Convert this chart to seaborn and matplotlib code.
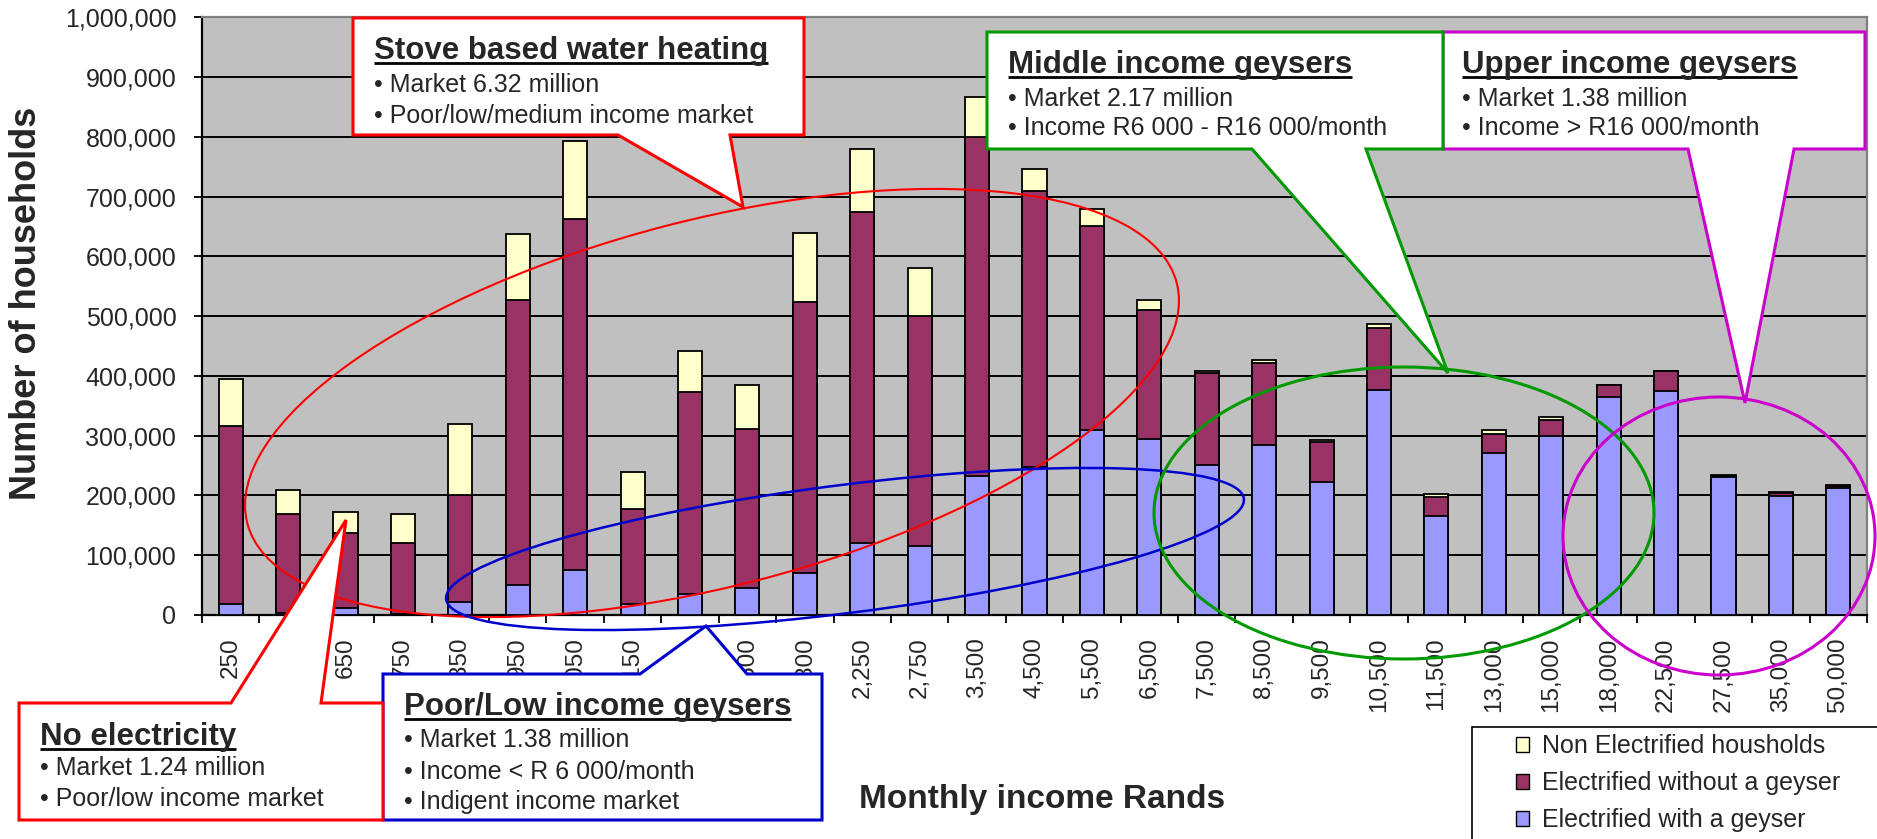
import matplotlib
matplotlib.use("Agg")
import matplotlib.pyplot as plt
from matplotlib.patches import Ellipse, Polygon, Patch, Rectangle
from matplotlib.ticker import FuncFormatter
import numpy as np
import pandas as pd
import seaborn as sns

# categories (monthly income, Rands)
income = ["250", "450", "650", "750", "850", "950", "1,050", "1,150", "1,250", "1,500",
          "1,800", "2,250", "2,750", "3,500", "4,500", "5,500", "6,500", "7,500", "8,500",
          "9,500", "10,500", "11,500", "13,000", "15,000", "18,000", "22,500", "27,500",
          "35,000", "50,000"]

# households, thousands (stack segments, bottom to top)
with_geyser = [18, 3, 11, 2, 21, 50, 75, 18, 35, 45, 70, 121, 116, 233, 247, 309, 295,
               251, 285, 222, 376, 166, 271, 300, 365, 374, 231, 199, 212]
without_geyser = [299, 166, 126, 119, 180, 477, 588, 159, 338, 267, 454, 554, 385, 566,
                  463, 342, 216, 154, 137, 67, 104, 32, 32, 27, 19, 34, 2, 5, 4]
non_electrified = [78, 40, 35, 48, 119, 110, 130, 62, 68, 72, 115, 104, 80, 67, 37, 29,
                   16, 4, 5, 4, 7, 4, 6, 4, 1, 1, 1, 1, 2]

W, H = 1877, 839
YELLOW, MAROON, BLUE = "#FFFFCC", "#993366", "#9999FF"

sns.set_style("white")
plt.rcParams["font.family"] = ["Liberation Sans", "DejaVu Sans"]

df = pd.DataFrame({"income": income,
                   "geyser": np.array(with_geyser) * 1000,
                   "nogeyser": np.array(without_geyser) * 1000,
                   "nonelec": np.array(non_electrified) * 1000})
df["elec"] = df["geyser"] + df["nogeyser"]
df["total"] = df["elec"] + df["nonelec"]

fig = plt.figure(figsize=(W / 100, H / 100), dpi=100)
ax = fig.add_axes([202 / W, (H - 615) / H, (1867 - 202) / W, (615 - 17.3) / H])
ax.set_facecolor("#C0C0C0")

# stacked bars: draw cumulative totals on top of each other
for col, colour in [("total", YELLOW), ("elec", MAROON), ("geyser", BLUE)]:
    sns.barplot(data=df, x="income", y=col, color=colour, saturation=1, width=0.42,
                edgecolor="black", linewidth=1.3, errorbar=None, ax=ax, zorder=3)

ax.set_xlabel("")
ax.set_ylabel("")
ax.set_xlim(-0.5, len(income) - 0.5)
ax.set_ylim(0, 1_000_000)
ax.set_yticks(range(0, 1_000_001, 100_000))
ax.yaxis.set_major_formatter(FuncFormatter(lambda v, p: f"{v:,.0f}"))
ax.yaxis.grid(True, color="black", lw=1.4)
ax.set_axisbelow(True)

ax.set_xticks(range(len(income)))
ax.set_xticklabels(income, rotation=90, fontsize=17.5)
ax.set_xticks(np.arange(-0.5, len(income)), minor=True)
ax.tick_params(axis="x", which="major", length=0, pad=16)
ax.tick_params(axis="x", which="minor", bottom=True, length=6, width=1.3, color="black")
ax.tick_params(axis="y", left=True, length=5.5, width=1.3, color="black", pad=13, labelsize=18)

for s in ["left", "bottom"]:
    ax.spines[s].set_color("black")
    ax.spines[s].set_linewidth(1.6)
for s in ["top", "right"]:
    ax.spines[s].set_color("#808080")
    ax.spines[s].set_linewidth(1.6)

# overlay in pixel coordinates for callouts
ov = fig.add_axes([0, 0, 1, 1], zorder=10)
ov.set_xlim(0, W)
ov.set_ylim(H, 0)
ov.axis("off")
ov.patch.set_alpha(0)

ov.add_patch(Ellipse((712, 403), 960, 366, angle=-14.5, fill=False, ec="#FF0000", lw=1.5))
ov.add_patch(Ellipse((845, 549), 804, 128, angle=-7.2, fill=False, ec="#0000CC", lw=1.8))
ov.add_patch(Ellipse((1404, 513), 500, 292, fill=False, ec="#009900", lw=2.2))
ov.add_patch(Ellipse((1719, 536), 312, 278, fill=False, ec="#CC00CC", lw=2.2))


def callout(x0, y0, x1, y1, side, b0, b1, tip, colour):
    if side == "bottom":
        pts = [(x0, y0), (x1, y0), (x1, y1), (b1, y1), tip, (b0, y1), (x0, y1)]
    else:
        pts = [(x0, y0), (b0, y0), tip, (b1, y0), (x1, y0), (x1, y1), (x0, y1)]
    ov.add_patch(Polygon(pts, closed=True, fc="white", ec=colour, lw=2.2, joinstyle="miter"))


callout(353, 18, 804, 135, "bottom", 618, 730, (743, 207), "#FF0000")
callout(1443, 32, 1865, 149, "bottom", 1688, 1794, (1745, 403), "#CC00CC")
callout(987, 32, 1443, 149, "bottom", 1252, 1366, (1448, 373), "#009900")
callout(383, 674, 822, 820, "top", 640, 747, (706, 626), "#0000CC")
callout(19, 703, 383, 820, "top", 231, 321, (346, 520), "#FF0000")

titles = []
boxes = [
    (374, [59, 92, 123], "Stove based water heating",
     ["• Market 6.32 million", "• Poor/low/medium income market"]),
    (1008, [73, 106, 135], "Middle income geysers",
     ["• Market 2.17 million", "• Income R6 000 - R16 000/month"]),
    (1462, [73, 106, 135], "Upper income geysers",
     ["• Market 1.38 million", "• Income > R16 000/month"]),
    (40, [745, 775, 806], "No electricity",
     ["• Market 1.24 million", "• Poor/low income market"]),
    (404, [715, 747, 779, 809], "Poor/Low income geysers",
     ["• Market 1.38 million", "• Income < R 6 000/month", "• Indigent income market"]),
]
for x, ys, title, bullets in boxes:
    t = ov.text(x, ys[0], title, fontsize=22.5, fontweight="bold", va="baseline", ha="left")
    titles.append((t, ys[0]))
    for yy, b in zip(ys[1:], bullets):
        ov.text(x, yy, b, fontsize=18, va="baseline", ha="left")

ov.text(27, 303, "Number of households", fontsize=26, fontweight="bold",
        rotation=90, ha="center", va="center")
ov.text(1042, 808, "Monthly income Rands", fontsize=24, fontweight="bold",
        ha="center", va="baseline")

# legend
ov.add_patch(Rectangle((1472, 727), 500, 200, fc="white", ec="black", lw=1.2))
handles = [Patch(fc=YELLOW, ec="black", label="Non Electrified housholds"),
           Patch(fc=MAROON, ec="black", label="Electrified without a geyser"),
           Patch(fc=BLUE, ec="black", label="Electrified with a geyser")]
ov.legend(handles=handles, loc="upper left", bbox_to_anchor=(1516 / W, 1 - 734 / H),
          bbox_transform=fig.transFigure, frameon=False, fontsize=18, borderpad=0,
          borderaxespad=0, handlelength=0.53, handleheight=0.53, handletextpad=0.5,
          labelspacing=0.52)

# underline the callout titles
fig.canvas.draw()
for t, yb in titles:
    bb = t.get_window_extent()
    ov.plot([bb.x0, bb.x1], [yb + 4, yb + 4], color="black", lw=2, solid_capstyle="butt")

fig.savefig("out.png", dpi=100)
